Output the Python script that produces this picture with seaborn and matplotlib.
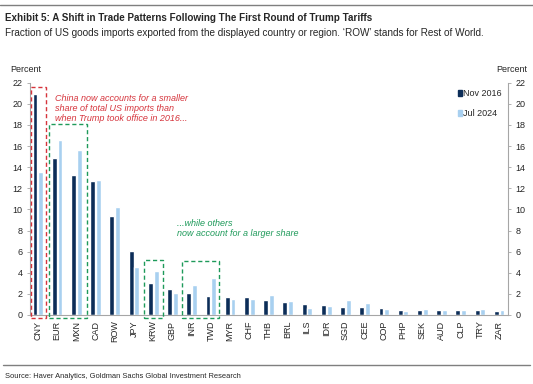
"""Exhibit 5: share of US goods imports by origin, Nov 2016 vs Jul 2024."""

import matplotlib.pyplot as plt
import pandas as pd
import seaborn as sns
from matplotlib.patches import Rectangle

countries = ["CNY", "EUR", "MXN", "CAD", "ROW", "JPY", "KRW", "GBP", "INR", "TWD",
             "MYR", "CHF", "THB", "BRL", "ILS", "IDR", "SGD", "CEE", "COP", "PHP",
             "SEK", "AUD", "CLP", "TRY", "ZAR"]
nov_2016 = [20.9, 14.85, 13.3, 12.65, 9.4, 6.1, 3.07, 2.5, 2.1, 1.83,
            1.7, 1.7, 1.4, 1.2, 1.0, 0.95, 0.75, 0.75, 0.7, 0.5,
            0.5, 0.5, 0.45, 0.45, 0.35]
jul_2024 = [13.5, 16.6, 15.65, 12.8, 10.25, 4.55, 4.17, 2.1, 2.8, 3.5,
            1.55, 1.55, 1.9, 1.3, 0.7, 0.85, 1.45, 1.15, 0.55, 0.4,
            0.6, 0.5, 0.5, 0.55, 0.45]
periods = ["Nov 2016", "Jul 2024"]
colors = ["#0c2d58", "#a8d0f0"]

df = pd.DataFrame({
    "country": countries * 2,
    "period": [periods[0]] * len(countries) + [periods[1]] * len(countries),
    "value": nov_2016 + jul_2024,
})

sns.set_style("white")
plt.rcParams["font.family"] = ["Liberation Sans", "DejaVu Sans"]
GREY = "#a6a6a6"
RED = "#d6343c"
GREEN = "#1e9a5a"

fig = plt.figure(figsize=(5.33, 3.84), dpi=100)
ax = fig.add_axes([30 / 533, 1 - 315 / 384, 478 / 533, (315 - 82.7) / 384])

sns.barplot(data=df, x="country", y="value", hue="period", palette=colors,
            width=0.6, gap=0.15, saturation=1, ax=ax, legend=False)

ax.set_xlim(-0.41, 24.46)
ax.set_ylim(0, 22)
ax.set_yticks(range(0, 23, 2))
ax.set_xlabel("")
ax.set_ylabel("")
ax.tick_params(axis="x", length=0, labelsize=6.5, rotation=90, pad=4)
ax.set_xticks([i + 0.5 for i in range(len(countries) - 1)], minor=True)
ax.tick_params(axis="x", which="minor", length=3, color=GREY, width=0.6)
ax.tick_params(axis="y", length=2.5, color=GREY, width=0.6, labelsize=6.5, pad=3)
for side in ["top", "right"]:
    ax.spines[side].set_visible(False)
for side in ["left", "bottom"]:
    ax.spines[side].set_color(GREY)
    ax.spines[side].set_linewidth(0.8)

ax2 = ax.twinx()
ax2.set_ylim(0, 22)
ax2.set_yticks(range(0, 23, 2))
ax2.tick_params(axis="y", length=2.5, color=GREY, width=0.6, labelsize=6.5, pad=3)
for side in ["top", "left", "bottom"]:
    ax2.spines[side].set_visible(False)
ax2.spines["right"].set_color(GREY)
ax2.spines["right"].set_linewidth(0.8)

# dashed highlight boxes (data coords)
boxes = [(-0.38, 0.42, 21.55, RED), (0.59, 2.55, 18.1, GREEN),
         (5.5, 6.49, 5.2, GREEN), (7.5, 9.4, 5.1, GREEN)]
for x0, x1, top, col in boxes:
    ax.add_patch(Rectangle((x0, -0.32), x1 - x0, top + 0.32, fill=False,
                           edgecolor=col, linestyle=(0, (3, 2)), linewidth=1.0,
                           clip_on=False, zorder=5))

ax.text(0.88, 20.95, "China now accounts for a smaller\nshare of total US imports than\n"
        "when Trump took office in 2016...", color=RED, fontsize=6.5,
        style="italic", va="top", ha="left", linespacing=1.15)
ax.text(7.22, 9.1, "...while others\nnow account for a larger share", color=GREEN,
        fontsize=6.5, style="italic", va="top", ha="left", linespacing=1.15)

# legend
for i, (lab, col) in enumerate(zip(periods, colors)):
    y = 93 + i * 20
    fig.patches.append(Rectangle((458 / 533, 1 - (y + 2.5) / 384), 4 / 533, 5 / 384,
                                 transform=fig.transFigure, color=col))
    fig.text(463 / 533, 1 - y / 384, lab, fontsize=6.5, va="center", ha="left")

fig.text(10 / 533, 1 - 70 / 384, "Percent", fontsize=6.5, va="center", ha="left")
fig.text(527 / 533, 1 - 70 / 384, "Percent", fontsize=6.5, va="center", ha="right")

# header / footer
fig.add_artist(plt.Line2D([0, 1], [1 - 5 / 384] * 2, color="#7f7f7f", lw=1.0))
fig.text(5 / 533, 1 - 18 / 384,
         "Exhibit 5: A Shift in Trade Patterns Following The First Round of Trump Tariffs",
         fontweight="bold", fontsize=7.1, va="center", ha="left")
fig.text(5 / 533, 1 - 33 / 384,
         "Fraction of US goods imports exported from the displayed country or region. "
         "\u2018ROW\u2019 stands for Rest of World.",
         fontsize=7.2, va="center", ha="left")
fig.add_artist(plt.Line2D([3 / 533, 530 / 533], [1 - 365 / 384] * 2,
                          color="#7f7f7f", lw=1.0))
fig.text(5 / 533, 1 - 376 / 384, "Source: Haver Analytics, Goldman Sachs Global Investment Research",
         fontsize=5.4, va="center", ha="left")

fig.savefig("out.png", dpi=100)
plt.close(fig)
